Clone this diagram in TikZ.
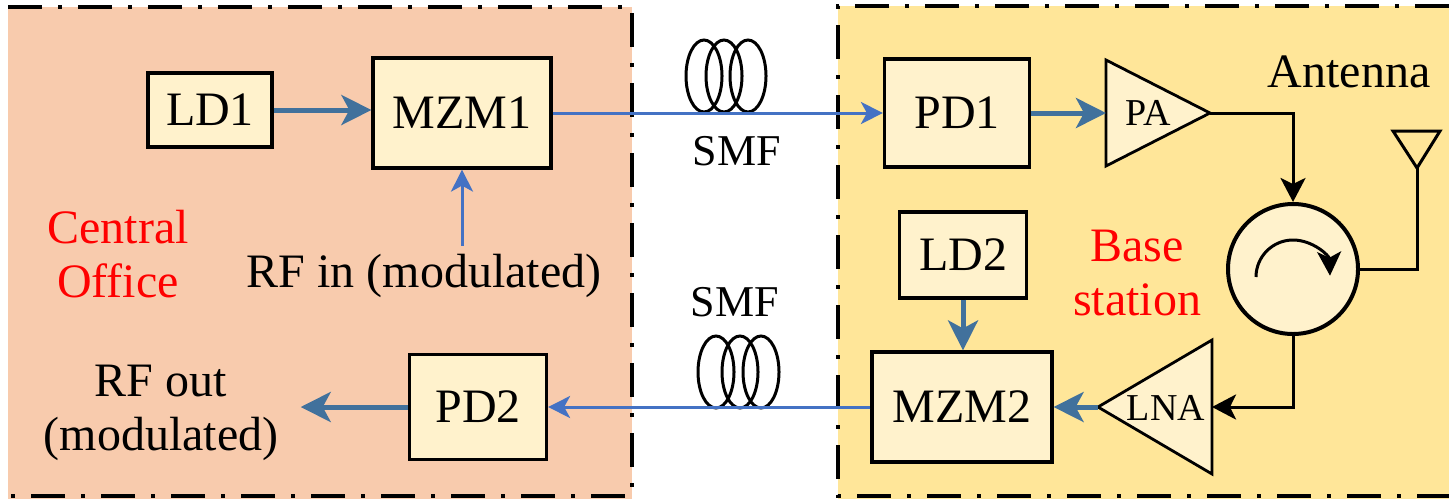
\documentclass[tikz,border=0pt]{standalone}
\usepackage{fontspec}
\setmainfont{Liberation Serif}
\usetikzlibrary{arrows.meta}

\definecolor{officefill}{HTML}{F8CBAD}
\definecolor{stationfill}{HTML}{FFE699}
\definecolor{blockfill}{HTML}{FFF2CC}
\definecolor{fiberblue}{HTML}{4472C4}
\definecolor{rfblue}{HTML}{41719C}

\tikzset{
	block/.style={draw, line width=1.6pt, fill=blockfill, inner sep=0pt, font=\fontsize{24}{28}\selectfont},
	amp/.style={draw, line width=1.4pt, fill=blockfill},
	panelborder/.style={line width=2pt, dash pattern=on 17pt off 8pt on 2pt off 8pt},
	txt/.style={inner sep=0pt, font=\fontsize{24}{27}\selectfont},
	redtxt/.style={txt, text=red, align=center},
	smftxt/.style={inner sep=0pt, font=\fontsize{22}{26}\selectfont},
	amptxt/.style={inner sep=0pt, font=\fontsize{19}{22}\selectfont},
	fiberarrow/.style={fiberblue, line width=1.5pt, -{Stealth[length=11pt,width=11pt,inset=3pt]}},
	rfarrow/.style={rfblue, line width=2.5pt, -{Stealth[length=15pt,width=15pt,inset=4pt]}},
	wire/.style={line width=1.5pt},
	wirearrow/.style={wire, -{Stealth[length=12pt,width=12.5pt,inset=3pt]}},
	coil/.style={line width=1.5pt},
}

\begin{document}
\begin{tikzpicture}[x=0.5pt, y=-0.5pt]
	\useasboundingbox (0,0) rectangle (1449,499);

	\fill[officefill] (8,7) rectangle (632,499);
	\fill[stationfill] (838,6) rectangle (1449,499);
	\draw[panelborder] (8,7) -- (632,7) -- (632,496) -- (8,496);
	\draw[panelborder] (1449,6) -- (838,6) -- (838,496) -- (1449,496);

	% central office
	\node[block, minimum width=62pt, minimum height=37pt] (LD1) at (210,110) {LD1};
	\node[block, minimum width=89pt, minimum height=55pt] (MZM1) at (462,113) {MZM1};
	\node[block, minimum width=68.5pt, minimum height=52.5pt] (PD2) at (478,407) {PD2};
	\node[txt] (RFin) at (424,276) {RF in (modulated)};
	\node[txt, align=center] (RFout) at (161,413) {RF out\\(modulated)};
	\node[redtxt] (CO) at (118,254) {Central\\Office};

	% base station
	\node[block, minimum width=72.5pt, minimum height=54pt] (PD1) at (957,113) {PD1};
	\node[block, minimum width=63.5pt, minimum height=43pt] (LD2) at (963,255) {LD2};
	\node[block, minimum width=90pt, minimum height=55pt] (MZM2) at (962,407) {MZM2};
	\node[redtxt] (BS) at (1137,273) {Base\\station};
	\node[txt] (ant) at (1349,72) {Antenna};

	\coordinate (PAin) at (1106,113);
	\coordinate (PAout) at (1210,113);
	\draw[amp] (1106,60) -- (PAout) -- (1106,166) -- cycle;
	\node[amptxt] (PA) at (1148,113) {PA};

	\coordinate (LNAin) at (1212,407);
	\coordinate (LNAout) at (1098,407);
	\draw[amp] (1212,340) -- (LNAout) -- (1212,474) -- cycle;
	\node[amptxt] (LNA) at (1166,408) {LNA};

	\node[draw, circle, line width=2pt, fill=blockfill, minimum size=65pt, inner sep=0pt] (circ) at (1293,269) {};
	\draw[wire, -{Stealth[length=12pt,width=12pt,inset=3pt]}] ([shift={(-37,8)}]circ.center) arc[start angle=180, end angle=2, radius=18.5pt];

	\coordinate (antfeed) at (1417,168);
	\draw[wire] (1393,131) -- (1440,131) -- (antfeed) -- cycle;
	\draw[wire] (circ.east) -| (antfeed);

	% fibres
	\foreach \cx in {704,724,748}
		\draw[coil] (\cx,76) ellipse[x radius=9pt, y radius=18pt];
	\foreach \cx in {716,740,761}
		\draw[coil] (\cx,372) ellipse[x radius=9pt, y radius=18pt];
	\node[smftxt] (SMFtop) at (737,151) {SMF};
	\node[smftxt] (SMFbot) at (735,302) {SMF};

	% links
	\draw[rfarrow] (LD1.east) -- (LD1.east -| MZM1.west);
	\draw[fiberarrow] ([yshift=4pt]RFin.north -| MZM1.south) -- (MZM1.south);
	\draw[fiberarrow] (MZM1.east) -- (MZM1.east -| PD1.west);
	\draw[rfarrow] (PD1.east) -- (PAin);
	\draw[wirearrow] (PAout) -| (circ.north);
	\draw[wirearrow] (circ.south) |- (LNAin);
	\draw[rfarrow] (LNAout) -- (MZM2.east);
	\draw[rfarrow] (LD2.south) -- (LD2.south |- MZM2.north);
	\draw[fiberarrow] (MZM2.west) -- (MZM2.west -| PD2.east);
	\draw[rfarrow] (PD2.west) -- ([xshift=11pt]RFout.east |- PD2.west);
\end{tikzpicture}
\end{document}
